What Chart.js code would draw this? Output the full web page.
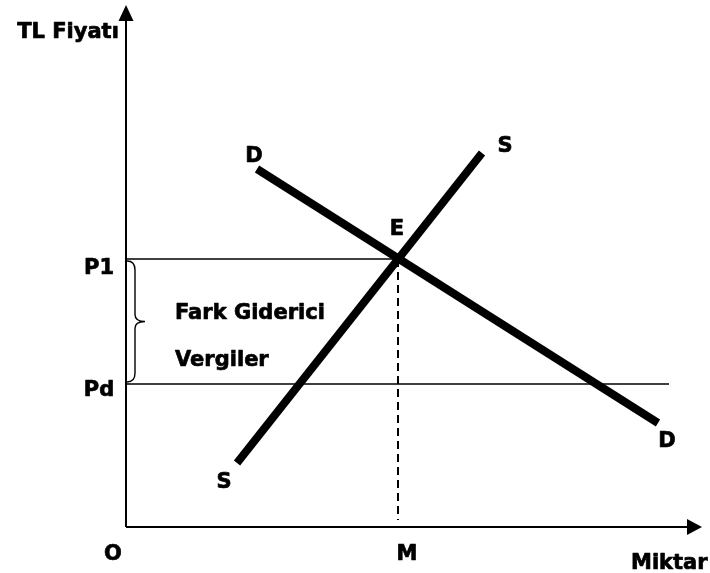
<!DOCTYPE html>
<html>
<head>
<meta charset="utf-8">
<script src="https://cdn.jsdelivr.net/npm/chart.js@4.4.0/dist/chart.umd.min.js"></script>
<style>
  html, body { margin: 0; padding: 0; background: #fff; }
  #wrap { width: 710px; height: 573px; }
</style>
</head>
<body>
<div id="wrap"><canvas id="canvas_tax"></canvas></div>
<script>
// axis extents (quantity, price)
var qMax = 576;
var pMax = 522;

// demand D-D and supply S-S end points
var demandQ = [131, 532];
var demandP = [358, 104];
var supplyQ = [111, 356];
var supplyP = [64, 374];

// equilibrium E at (M, P1), lower price Pd
var eqQ = 272;
var priceP1 = 268;
var pricePd = 143;
var pdLineQ = 543;
var dashEndP = 7;

var priceLabels = ["P1", "Pd"];
var axisLabels = ["TL Fiyatı", "Miktar", "O", "M"];
var noteLines = ["Fark Giderici", "Vergiler"];

function seg(qs, ps) {
    return qs.map(function (q, i) { return {x: q, y: ps[i]}; });
}

function lineSet(data, width, dash, order) {
    return {
        data: data,
        showLine: true,
        borderColor: "#000",
        borderWidth: width,
        borderDash: dash || [],
        pointRadius: 0,
        fill: false,
        clip: false,
        order: order
    };
}

var textPlugin = {
    id: "textPlugin",
    afterDatasetsDraw: function (chart) {
        var ctx = chart.ctx;
        var xs = chart.scales.x, ys = chart.scales.y;
        var px = function (v) { return xs.getPixelForValue(v); };
        var py = function (v) { return ys.getPixelForValue(v); };
        ctx.save();
        ctx.fillStyle = "#000";
        ctx.strokeStyle = "#000";

        // arrow heads
        ctx.beginPath();
        ctx.moveTo(px(0), py(pMax));
        ctx.lineTo(px(0) - 7.5, py(pMax) + 16);
        ctx.lineTo(px(0) + 7.5, py(pMax) + 16);
        ctx.closePath();
        ctx.fill();
        ctx.beginPath();
        ctx.moveTo(px(qMax), py(0));
        ctx.lineTo(px(qMax) - 15, py(0) - 8);
        ctx.lineTo(px(qMax) - 15, py(0) + 8);
        ctx.closePath();
        ctx.fill();

        // brace between P1 and Pd
        var x0 = px(0) + 1, x1 = px(0) + 9, x2 = px(0) + 19;
        var yT = py(priceP1) + 2, yB = py(pricePd) - 2, yM = (yT + yB) / 2;
        ctx.lineWidth = 1.4;
        ctx.beginPath();
        ctx.moveTo(x0, yT);
        ctx.quadraticCurveTo(x1, yT, x1, yT + 9);
        ctx.lineTo(x1, yM - 7);
        ctx.quadraticCurveTo(x1, yM, x2, yM);
        ctx.quadraticCurveTo(x1, yM, x1, yM + 7);
        ctx.lineTo(x1, yB - 9);
        ctx.quadraticCurveTo(x1, yB, x0, yB);
        ctx.stroke();

        ctx.font = 'bold 21px "DejaVu Sans"';
        ctx.textBaseline = "alphabetic";
        ctx.lineWidth = 0.7;
        ctx.lineJoin = "round";
        var put = function (t, x, y) { ctx.fillText(t, x, y); ctx.strokeText(t, x, y); };
        ctx.textAlign = "center";
        put(axisLabels[0], px(0) - 58, py(pMax) + 33);
        put(priceLabels[0], px(0) - 27, py(priceP1) + 15);
        put(priceLabels[1], px(0) - 27, py(pricePd) + 12);
        put(axisLabels[2], px(0) - 13, py(0) + 33);
        put(axisLabels[3], px(eqQ) + 9, py(0) + 33);
        put("E", px(eqQ) - 1, py(priceP1) - 24);
        put("D", px(demandQ[0]) - 3, py(demandP[0]) - 7);
        put("D", px(demandQ[1]) + 9, py(demandP[1]) + 24);
        put("S", px(supplyQ[1]) + 23, py(supplyP[1]) - 1);
        put("S", px(supplyQ[0]) - 13, py(supplyP[0]) + 25);

        ctx.textAlign = "left";
        put(axisLabels[1], px(qMax) - 71, py(0) + 42);
        put(noteLines[0], px(0) + 49, py(priceP1) + 60);
        put(noteLines[1], px(0) + 49, py(pricePd) - 18);
        ctx.restore();
    }
};

var ctx = document.getElementById("canvas_tax");
var taxChart = new Chart(ctx, {
    type: "scatter",
    data: {
        datasets: [
            lineSet(seg([0, qMax - 8], [0, 0]), 2, null, 5),
            lineSet(seg([0, 0], [0, pMax - 8]), 2, null, 5),
            lineSet(seg([0, eqQ], [priceP1, priceP1]), 1.5, null, 4),
            lineSet(seg([0, pdLineQ], [pricePd, pricePd]), 1.5, null, 4),
            lineSet(seg([eqQ, eqQ], [priceP1, dashEndP]), 2, [8, 5], 4),
            lineSet(seg(demandQ, demandP), 8, null, 1),
            lineSet(seg(supplyQ, supplyP), 8, null, 1)
        ]
    },
    options: {
        responsive: true,
        maintainAspectRatio: false,
        animation: false,
        events: [],
        layout: { padding: { left: 126, right: 8, top: 5, bottom: 46 } },
        plugins: {
            legend: { display: false },
            tooltip: { enabled: false }
        },
        scales: {
            x: { type: "linear", min: 0, max: qMax, display: false },
            y: { type: "linear", min: 0, max: pMax, display: false }
        }
    },
    plugins: [textPlugin]
});
</script>
</body>
</html>
